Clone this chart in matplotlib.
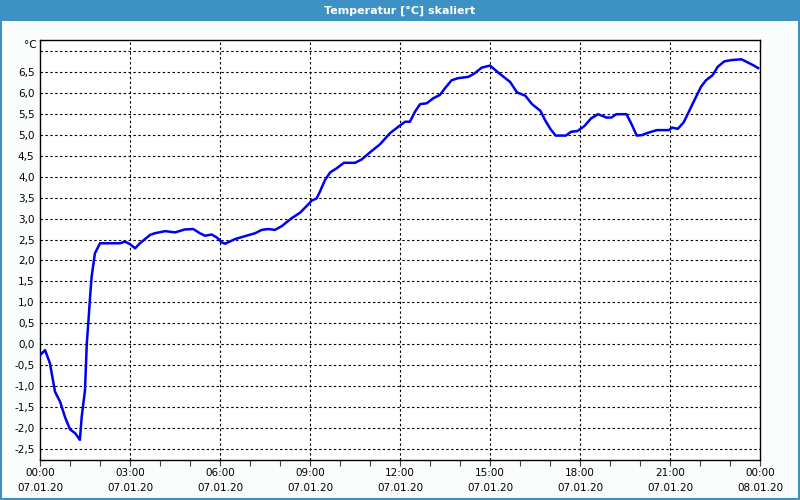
import matplotlib.pyplot as plt
from matplotlib.patches import Rectangle

# Messwerte (Stunden ab 07.01.20 00:00, Temperatur in °C)
hours = [0.0, 0.17, 0.33, 0.5, 0.67, 0.83, 1.0, 1.17, 1.33, 1.39, 1.5, 1.56,
         1.61, 1.67, 1.72, 1.83, 2.0, 2.67, 2.83, 3.0, 3.17, 3.33, 3.5, 3.67,
         3.83, 4.17, 4.5, 4.83, 5.11, 5.33, 5.5, 5.72, 5.89, 6.06, 6.17, 6.5,
         6.83, 7.17, 7.39, 7.61, 7.83, 8.06, 8.39, 8.67, 8.89, 9.06, 9.22,
         9.33, 9.5, 9.67, 9.89, 10.13, 10.5, 10.72, 11.0, 11.33, 11.67, 12.0,
         12.17, 12.33, 12.5, 12.67, 12.89, 13.11, 13.33, 13.5, 13.72, 13.94,
         14.28, 14.5, 14.72, 15.0, 15.33, 15.67, 15.9, 16.18, 16.4, 16.68,
         16.85, 17.02, 17.19, 17.53, 17.7, 17.92, 18.15, 18.37, 18.6, 18.88,
         19.05, 19.21, 19.55, 19.72, 19.89, 20.06, 20.28, 20.56, 20.96, 21.07,
         21.26, 21.46, 21.75, 22.03, 22.2, 22.42, 22.59, 22.81, 23.04, 23.38,
         23.55, 23.77, 23.94]
temps = [-0.26, -0.14, -0.45, -1.13, -1.37, -1.73, -2.03, -2.12, -2.28, -1.73,
         -1.09, 0.02, 0.51, 1.14, 1.61, 2.17, 2.41, 2.41, 2.45, 2.39, 2.29,
         2.41, 2.51, 2.61, 2.65, 2.70, 2.67, 2.74, 2.75, 2.65, 2.59, 2.62,
         2.55, 2.43, 2.40, 2.51, 2.58, 2.65, 2.73, 2.75, 2.73, 2.82, 3.01,
         3.14, 3.30, 3.43, 3.48, 3.64, 3.92, 4.10, 4.20, 4.33, 4.33, 4.41,
         4.58, 4.77, 5.04, 5.22, 5.31, 5.31, 5.55, 5.73, 5.75, 5.87, 5.95,
         6.11, 6.30, 6.35, 6.38, 6.47, 6.60, 6.65, 6.45, 6.26, 6.01, 5.93,
         5.73, 5.57, 5.33, 5.13, 4.98, 4.98, 5.07, 5.09, 5.21, 5.39, 5.49,
         5.41, 5.41, 5.49, 5.49, 5.25, 4.98, 4.99, 5.05, 5.11, 5.11, 5.17,
         5.14, 5.30, 5.73, 6.14, 6.30, 6.42, 6.62, 6.75, 6.78, 6.80, 6.74,
         6.66, 6.59]

# Achsbeschriftungen
x_ticks = [0, 3, 6, 9, 12, 15, 18, 21, 24]
x_labels = ["00:00\n07.01.20", "03:00\n07.01.20", "06:00\n07.01.20",
            "09:00\n07.01.20", "12:00\n07.01.20", "15:00\n07.01.20",
            "18:00\n07.01.20", "21:00\n07.01.20", "00:00\n08.01.20"]
y_ticks = [-2.5, -2.0, -1.5, -1.0, -0.5, 0.0, 0.5, 1.0, 1.5, 2.0, 2.5, 3.0,
           3.5, 4.0, 4.5, 5.0, 5.5, 6.0, 6.5]
y_grid = y_ticks + [7.0]

title = "Temperatur [°C] skaliert"
bar_blue = "#3d91c5"

fig = plt.figure(figsize=(8, 5), dpi=100)
fig.patch.set_facecolor("#fbfdfd")

# Titelleiste + Fensterrahmen
fig.patches.append(Rectangle((0, 1 - 21 / 500), 1, 21 / 500, transform=fig.transFigure,
                             facecolor=bar_blue, edgecolor="none", zorder=0))
fig.patches.append(Rectangle((0.001, 0.003), 0.998, 0.995, transform=fig.transFigure,
                             facecolor="none", edgecolor=bar_blue, lw=1.5, zorder=0))
fig.text(0.5, 1 - 10.5 / 500, title, color="white", fontsize=8, fontweight="bold",
         ha="center", va="center")

ax = fig.add_axes([40 / 800, 40 / 500, 720 / 800, 420 / 500])
ax.set_facecolor("white")
ax.plot(hours, temps, color="#0000f0", lw=1.8, solid_joinstyle="round", zorder=3)

ax.set_xlim(0, 24)
ax.set_ylim(-2.76, 7.26)

ax.set_xticks(x_ticks)
ax.set_xticklabels(x_labels, fontsize=7.5, linespacing=1.55)
ax.set_xticks(range(0, 25), minor=True)
ax.tick_params(axis="x", which="both", direction="out", length=4, width=0.8,
               color="#444444", pad=2)
ax.set_yticks(y_ticks)
ax.set_yticklabels([f"{v:.1f}".replace(".", ",") for v in y_ticks], fontsize=7.5)
ax.tick_params(axis="y", length=0, pad=4)

dash = (0, (2.2, 2.2))
for v in y_grid:
    ax.axhline(v, color="black", lw=0.8, ls=dash, zorder=1)
for h in x_ticks[1:-1]:
    ax.axvline(h, color="black", lw=0.8, ls=dash, zorder=1)

for sp in ax.spines.values():
    sp.set_linewidth(1.0)
    sp.set_color("black")

ax.text(-0.004, 7.15, "°C", transform=ax.get_yaxis_transform(), fontsize=7.5,
        ha="right", va="center")

fig.savefig("out.png", dpi=100, facecolor=fig.get_facecolor())
